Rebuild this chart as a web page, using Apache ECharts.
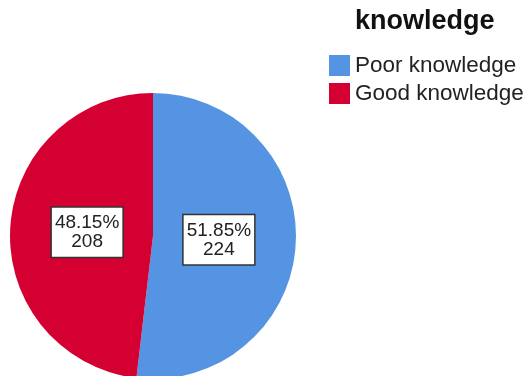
<!DOCTYPE html>
<html>
<head>
<meta charset="utf-8">
<script src="https://cdn.jsdelivr.net/npm/echarts@6/dist/echarts.min.js"></script>
<style>html,body{margin:0;padding:0;background:#fff;}#c{width:525px;height:376px;}</style>
</head>
<body>
<div id="c"></div>
<script>
var legendTitle = 'knowledge';
var categories = ['Poor knowledge', 'Good knowledge'];
var counts = [224, 208];
var colors = ['#5594E2', '#D40032'];

var total = counts.reduce(function (a, b) { return a + b; }, 0);
var pieData = categories.map(function (name, i) {
  return { name: name, value: counts[i], itemStyle: { color: colors[i] } };
});
var FONT = '"Liberation Sans", Arial, sans-serif';

var chart = echarts.init(document.getElementById('c'), null, { renderer: 'canvas' });
chart.setOption({
  animation: false,
  backgroundColor: '#ffffff',
  title: {
    text: legendTitle,
    left: 355,
    top: 8,
    padding: 0,
    textStyle: { fontFamily: FONT, fontSize: 27, fontWeight: 'bold', color: '#111' }
  },
  legend: {
    orient: 'vertical',
    left: 329,
    top: 54,
    padding: 0,
    itemWidth: 21,
    itemHeight: 21,
    itemGap: 5,
    icon: 'rect',
    data: categories,
    textStyle: { fontFamily: FONT, fontSize: 22.5, lineHeight: 21, color: '#222' }
  },
  series: [
    {
      type: 'pie',
      center: [153, 236],
      radius: [0, 143],
      startAngle: 90,
      clockwise: true,
      silent: true,
      label: { show: false },
      labelLine: { show: false },
      itemStyle: { borderWidth: 0 },
      data: pieData
    },
    {
      type: 'pie',
      center: [153, 236],
      radius: [0, 126],
      startAngle: 90,
      clockwise: true,
      silent: true,
      legendHoverLink: false,
      itemStyle: { color: 'rgba(0,0,0,0)', borderWidth: 0 },
      labelLine: { show: false },
      label: {
        show: true,
        position: 'inside',
        formatter: function (p) {
          return (p.value / total * 100).toFixed(2) + '%\n' + p.value;
        },
        fontFamily: FONT,
        fontSize: 19,
        lineHeight: 19,
        color: '#222',
        backgroundColor: '#ffffff',
        borderColor: '#333333',
        borderWidth: 1.5,
        padding: [6, 3, 5, 3],
        align: 'center'
      },
      data: categories.map(function (name, i) { return { name: name, value: counts[i] }; })
    }
  ]
});
</script>
</body>
</html>
